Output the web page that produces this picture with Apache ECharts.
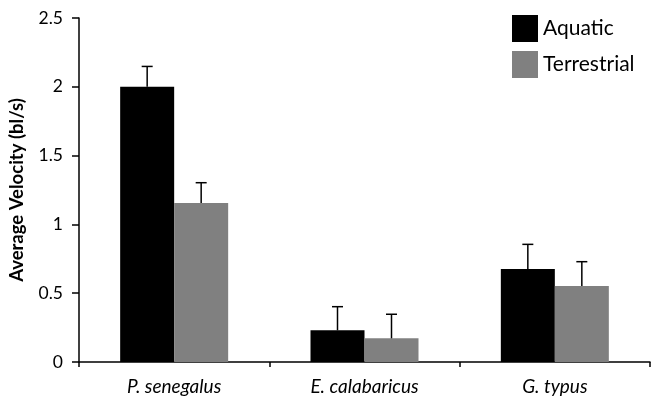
<!DOCTYPE html>
<html>
<head>
<meta charset="utf-8">
<script src="https://cdn.jsdelivr.net/npm/echarts@6/dist/echarts.min.js"></script>
<style>html,body{margin:0;padding:0;background:#fff}#c{width:651px;height:399px}</style>
</head>
<body>
<div id="c"></div>
<script>
var categories = ['P. senegalus', 'E. calabaricus', 'G. typus'];
var aquatic = [2.0, 0.23, 0.675];
var terrestrial = [1.155, 0.172, 0.552];
var aquaticErr = [0.148, 0.172, 0.18];
var terrestrialErr = [0.148, 0.175, 0.177];
var yTicks = [0, 0.5, 1, 1.5, 2, 2.5];

var chart = echarts.init(document.getElementById('c'), null, {renderer: 'canvas'});
var FONT = 'Lato';
var BAR_W = 54;

function errSeries(name, vals, errs, offset) {
  return {
    type: 'custom',
    name: name + ' err',
    z: 3,
    silent: true,
    data: vals.map(function (v, i) { return [i, v, v + errs[i]]; }),
    renderItem: function (params, api) {
      var p0 = api.coord([api.value(0), api.value(1)]);
      var p1 = api.coord([api.value(0), api.value(2)]);
      var x = p0[0] + offset;
      var cap = 5.5;
      var st = {stroke: '#000', lineWidth: 1.5};
      return {
        type: 'group',
        children: [
          {type: 'line', shape: {x1: x, y1: p0[1], x2: x, y2: p1[1]}, style: st},
          {type: 'line', shape: {x1: x - cap, y1: p1[1], x2: x + cap, y2: p1[1]}, style: st}
        ]
      };
    }
  };
}

chart.setOption({
  animation: false,
  grid: {left: 79, right: 1, top: 18, bottom: 37, containLabel: false},
  legend: {
    orient: 'vertical',
    left: 507,
    top: 10,
    itemWidth: 26,
    itemHeight: 27,
    itemGap: 9,
    icon: 'rect',
    data: ['Aquatic', 'Terrestrial'],
    textStyle: {fontFamily: FONT, fontSize: 21, color: '#000', padding: [0, 0, 0, 0]}
  },
  xAxis: {
    type: 'category',
    data: categories,
    axisLine: {lineStyle: {color: '#000', width: 1.5}},
    axisTick: {show: true, length: 5, lineStyle: {color: '#000', width: 1.5}},
    axisLabel: {fontFamily: FONT, fontStyle: 'italic', fontSize: 19, color: '#000', margin: 15}
  },
  yAxis: {
    type: 'value',
    min: 0,
    max: 2.5,
    interval: 0.5,
    name: 'Average Velocity (bl/s)',
    nameLocation: 'middle',
    nameGap: 52,
    nameTextStyle: {fontFamily: FONT, fontWeight: 'bold', fontSize: 18.5, color: '#000'},
    splitLine: {show: false},
    axisLine: {show: true, lineStyle: {color: '#000', width: 1.5}},
    axisTick: {show: true, length: 7, lineStyle: {color: '#000', width: 1.5}},
    axisLabel: {
      fontFamily: FONT, fontSize: 17.5, color: '#000', margin: 16,
      formatter: function (v) { return yTicks.indexOf(v) >= 0 ? String(v) : ''; }
    }
  },
  series: [
    {name: 'Aquatic', type: 'bar', data: aquatic, barWidth: BAR_W, barGap: '0%',
     itemStyle: {color: '#000000'}},
    {name: 'Terrestrial', type: 'bar', data: terrestrial, barWidth: BAR_W, barGap: '0%',
     itemStyle: {color: '#808080'}},
    errSeries('Aquatic', aquatic, aquaticErr, -BAR_W / 2),
    errSeries('Terrestrial', terrestrial, terrestrialErr, BAR_W / 2)
  ]
});
</script>
</body>
</html>
